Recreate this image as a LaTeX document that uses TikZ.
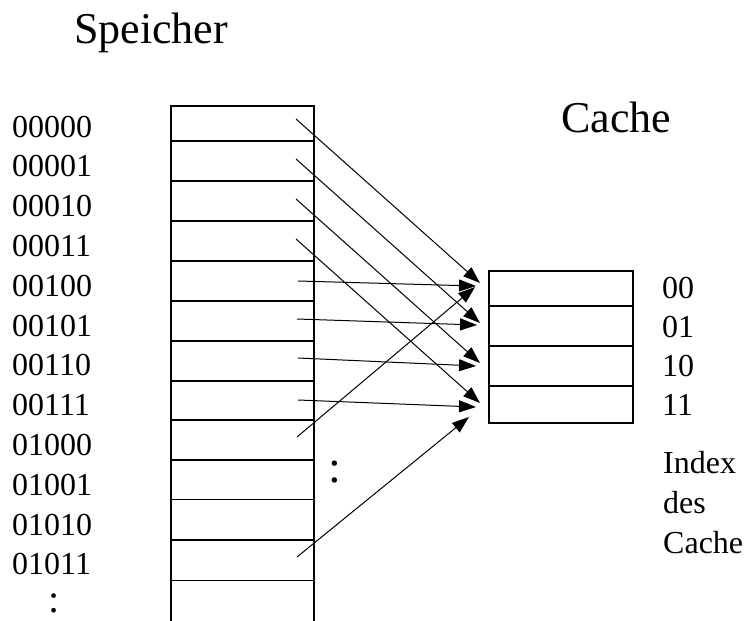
\documentclass[tikz,border=0pt]{standalone}
\usepackage{fontspec}
\setmainfont{Liberation Serif}
\usetikzlibrary{arrows.meta}
\begin{document}
\begin{tikzpicture}[x=1pt,y=-1pt,
  cell/.style={draw, line width=1.2pt, minimum width=143pt, inner sep=0pt, outer sep=0pt},
  ccell/.style={draw, line width=1.2pt, minimum width=144pt, inner sep=0pt, outer sep=0pt},
  lbl/.style={anchor=base west, inner sep=0pt, font=\fontsize{32}{38}\selectfont},
  ttl/.style={anchor=base west, inner sep=0pt, font=\fontsize{44}{52}\selectfont},
  dotslbl/.style={anchor=base, inner sep=0pt},
  arr/.style={line width=1pt, -{Triangle[length=17pt,width=12pt]}}]
\useasboundingbox (0,0) rectangle (745,621);
% titles
\node[ttl] (speicher) at (74,43) {Speicher};
\node[ttl] (cachettl) at (561,132) {Cache};
% memory cells
\node[cell, minimum height=35pt] (m0) at (242.5,123.5) {};
\foreach \i/\c in {1/161,2/201,3/241,4/281,5/321,6/361,7/400.5,8/440,9/479.5,10/519.5,11/560.5}
  \node[cell, minimum height=40pt] (m\i) at (242.5,\c) {};
\draw[line width=1.2pt] (171,581) -- (171,621) (314,581) -- (314,621);
% address labels
\foreach \i/\t in {0/00000,1/00001,2/00010,3/00011,4/00100,5/00101,6/00110,7/00111,8/01000,9/01001,10/01010,11/01011}
  \node[lbl] (a\i) at (12,{137+39.8*\i}) {\t};
\node[dotslbl, font=\fontsize{40}{44}\selectfont] (adots) at (54,612) {:};
\node[dotslbl, font=\fontsize{46}{50}\selectfont] (mdots) at (335,482) {:};
% cache cells
\node[ccell, minimum height=35pt] (c0) at (561,288.5) {};
\node[ccell, minimum height=40pt] (c1) at (561,326) {};
\node[ccell, minimum height=40pt] (c2) at (561,366) {};
\node[ccell, minimum height=37pt] (c3) at (561,404.5) {};
% index labels
\node[lbl] (i0) at (662,298) {00};
\node[lbl] (i1) at (662,337) {01};
\node[lbl] (i2) at (662,376) {10};
\node[lbl] (i3) at (662,415) {11};
\node[lbl] (ix1) at (663,473) {Index};
\node[lbl] (ix2) at (663,513) {des};
\node[lbl] (ix3) at (663,553) {Cache};
% arrow start coordinates
\coordinate (s0) at (296,119);
\coordinate (s1) at (296,159);
\coordinate (s2) at (296,199);
\coordinate (s3) at (296,239);
\coordinate (s4) at (298,281);
\coordinate (s5) at (297,319);
\coordinate (s6) at (298,358);
\coordinate (s7) at (298,400);
\coordinate (s8) at (297,437);
\coordinate (s11) at (297,557);
% arrow tips
\coordinate (t0) at (480,283);
\coordinate (t1) at (480,323);
\coordinate (t2) at (480,363);
\coordinate (t3) at (480,403);
\coordinate (t4) at (476,286);
\coordinate (t5) at (477,325);
\coordinate (t6) at (476,366);
\coordinate (t7) at (476,407);
\coordinate (t8) at (475,287);
\coordinate (t11) at (469,417);
\foreach \k in {0,1,2,3,4,5,6,7,8,11}
  \draw[arr] (s\k) -- (t\k);
\end{tikzpicture}
\end{document}
